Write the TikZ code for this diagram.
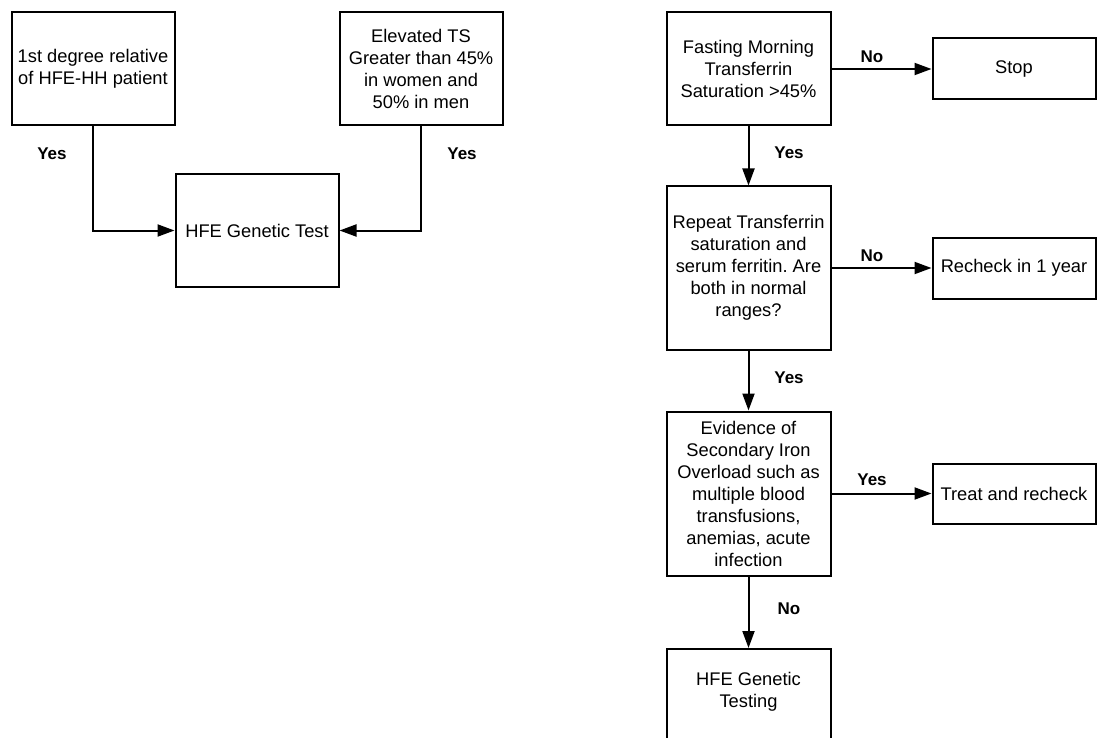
\documentclass[tikz,border=0pt]{standalone}
\usepackage{fontspec}
\setmainfont{Liberation Sans}
\usetikzlibrary{arrows.meta}
\frenchspacing
\begin{document}
\begin{tikzpicture}[x=1pt,y=-1pt,
  box/.style={draw, line width=2pt, align=center, inner sep=0pt,
    font=\fontsize{18.3}{22}\selectfont},
  lbl/.style={font=\bfseries\fontsize{17}{20}\selectfont, inner sep=0pt},
  conn/.style={line width=2pt, -{Triangle[length=17pt,width=12pt]}}]
\useasboundingbox (0,0) rectangle (1097,738);
\clip (0,0) rectangle (1097,738);
% left part
\node[box, minimum width=163, minimum height=113] (b1) at (93,69) {1st degree relative\\of HFE-HH patient};
\node[box, minimum width=163, minimum height=113] (b2) at (421,68.5) {Elevated TS\\Greater than 45\%\\in women and\\50\% in men};
\node[box, minimum width=163, minimum height=112] (hfe1) at (257,230.5) {HFE Genetic Test};
\draw[conn] (b1.south) |- (hfe1.west);
\draw[conn] (b2.south) |- (hfe1.east);
\node[lbl] (y1) at (52,154) {Yes};
\node[lbl] (y2) at (462,154) {Yes};
% right part
\node[box, minimum width=164, minimum height=113] (fast) at (748.5,69) {Fasting Morning\\Transferrin\\Saturation >45\%};
\node[box, minimum width=163, minimum height=61] (stop) at (1014,69) {Stop};
\node[box, minimum width=164, minimum height=163] (rep) at (748.5,268) {Repeat Transferrin\\saturation and\\serum ferritin. Are\\both in normal\\ranges?};
\node[box, minimum width=163, minimum height=61] (rech) at (1014,268) {Recheck in 1 year};
\node[box, minimum width=164, minimum height=164] (evid) at (748.5,493.5) {Evidence of\\Secondary Iron\\Overload such as\\multiple blood\\transfusions,\\anemias, acute\\infection};
\node[box, minimum width=163, minimum height=60] (treat) at (1014,493.5) {Treat and recheck};
\node[box, minimum width=164, minimum height=140, anchor=north] (hfe2) at (748.5,648) {};
\node[align=center, font=\fontsize{18.3}{22}\selectfont] (hfe2t) at (748.5,692) {HFE Genetic\\Testing};
\draw[conn] (fast.east) -- (stop.west);
\draw[conn] (fast.south) -- (rep.north);
\draw[conn] (rep.east) -- (rech.west);
\draw[conn] (rep.south) -- (evid.north);
\draw[conn] (evid.east) -- (treat.west);
\draw[conn] (evid.south) -- (hfe2.north);
\node[lbl] (n1) at (872,57) {No};
\node[lbl] (y3) at (789,153) {Yes};
\node[lbl] (n2) at (872,256) {No};
\node[lbl] (y4) at (789,378) {Yes};
\node[lbl] (y5) at (872,480) {Yes};
\node[lbl] (n3) at (789,609) {No};
\end{tikzpicture}
\end{document}
